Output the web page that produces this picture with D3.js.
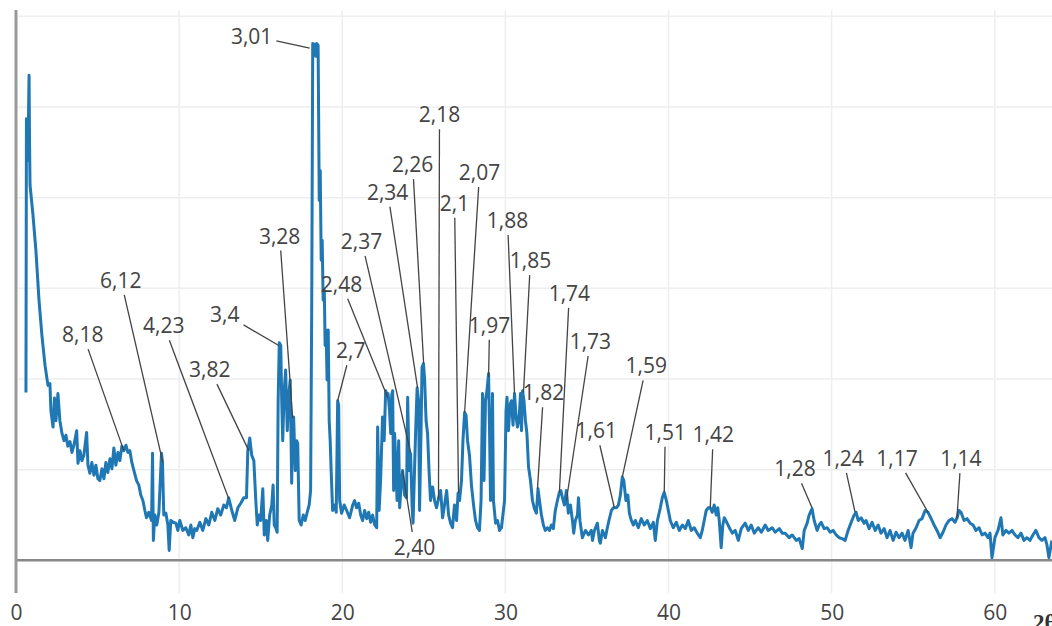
<!DOCTYPE html>
<html>
<head>
<meta charset="utf-8">
<script src="https://cdn.jsdelivr.net/npm/d3@7"></script>
<style>
  body { margin: 0; background: #fff; overflow: hidden; }
  svg { display: block; }
</style>
</head>
<body>
<svg id="chart" width="1052" height="626"></svg>
<script>
// diffraction scan: [2θ, intensity]
const scan = [
  [0.61,185],[0.64,487],[0.70,480],[0.73,441],[0.80,535],[0.83,463],[0.86,414],[1.04,381],[1.22,342],[1.41,287],
  [1.59,248],[1.78,215],[1.96,193],[2.08,195],[2.14,165],[2.27,147],[2.36,179],[2.45,154],[2.57,184],[2.69,154],
  [2.82,140],[2.94,132],[3.06,138],[3.18,126],[3.31,131],[3.43,119],[3.55,127],[3.72,143],[3.80,107],[3.92,121],
  [4.04,110],[4.16,116],[4.33,141],[4.41,105],[4.53,96],[4.65,108],[4.78,94],[4.90,105],[5.02,90],[5.14,88],
  [5.27,101],[5.39,90],[5.51,108],[5.63,97],[5.76,112],[5.88,101],[6.00,124],[6.12,105],[6.25,119],[6.37,110],
  [6.49,126],[6.61,121],[6.74,127],[6.86,119],[6.98,121],[7.10,108],[7.23,99],[7.39,88],[7.53,83],[7.65,72],
  [7.78,66],[7.90,55],[8.00,47],[8.14,53],[8.31,44],[8.37,118],[8.42,22],[8.51,50],[8.63,39],[8.76,53],
  [8.92,118],[8.98,108],[9.06,50],[9.19,52],[9.31,39],[9.39,11],[9.49,44],[9.63,42],[9.80,41],[9.92,33],
  [10.04,44],[10.23,33],[10.41,36],[10.59,28],[10.72,39],[10.84,25],[10.96,35],[11.08,33],[11.27,42],[11.45,33],
  [11.64,46],[11.82,39],[12.00,53],[12.19,44],[12.37,57],[12.55,50],[12.74,61],[12.90,58],[13.04,69],[13.23,55],
  [13.41,44],[13.60,58],[13.78,63],[13.96,69],[14.13,69],[14.21,121],[14.33,135],[14.45,116],[14.58,110],[14.70,66],
  [14.79,39],[14.88,50],[15.00,44],[15.13,79],[15.22,28],[15.34,44],[15.43,22],[15.55,50],[15.68,61],[15.76,83],
  [15.83,39],[15.92,36],[16.01,31],[16.07,176],[16.14,240],[16.23,237],[16.29,176],[16.35,132],[16.44,187],[16.53,210],
  [16.63,143],[16.72,182],[16.81,199],[16.90,85],[16.96,157],[17.02,158],[17.12,99],[17.21,132],[17.27,129],[17.36,44],
  [17.48,39],[17.61,50],[17.73,44],[17.85,53],[17.97,61],[18.06,77],[18.13,287],[18.19,570],[18.31,569],[18.37,556],
  [18.43,570],[18.52,568],[18.59,397],[18.65,430],[18.71,331],[18.77,353],[18.83,287],[18.90,298],[18.95,237],[19.01,254],
  [19.07,199],[19.14,254],[19.20,154],[19.26,132],[19.32,99],[19.41,55],[19.54,61],[19.63,53],[19.72,176],[19.78,171],
  [19.84,66],[19.96,52],[20.12,61],[20.27,55],[20.45,47],[20.64,61],[20.76,66],[20.88,58],[21.01,63],[21.13,50],
  [21.25,44],[21.37,55],[21.50,46],[21.62,53],[21.74,42],[21.86,50],[21.99,39],[22.11,36],[22.17,147],[22.26,55],
  [22.35,88],[22.47,158],[22.57,132],[22.66,187],[22.75,182],[22.81,184],[22.90,165],[22.97,140],[23.03,182],[23.09,187],
  [23.15,77],[23.21,140],[23.30,99],[23.36,66],[23.46,132],[23.52,58],[23.61,83],[23.70,99],[23.82,72],[23.94,69],
  [24.01,180],[24.10,99],[24.19,118],[24.28,61],[24.34,41],[24.43,99],[24.50,143],[24.59,190],[24.68,176],[24.74,55],
  [24.83,143],[24.89,213],[24.98,217],[25.05,199],[25.14,154],[25.23,140],[25.32,99],[25.41,66],[25.54,81],[25.66,66],
  [25.78,58],[25.90,68],[26.03,77],[26.15,47],[26.27,61],[26.40,77],[26.52,50],[26.64,41],[26.76,36],[26.88,61],
  [27.01,44],[27.10,74],[27.19,66],[27.31,88],[27.40,132],[27.50,163],[27.59,160],[27.68,132],[27.80,116],[27.92,83],
  [28.05,61],[28.17,44],[28.29,36],[28.41,33],[28.51,66],[28.60,184],[28.69,88],[28.78,176],[28.87,187],[28.97,206],
  [29.03,143],[29.09,66],[29.15,121],[29.21,184],[29.27,66],[29.40,41],[29.52,44],[29.64,33],[29.76,36],[29.88,55],
  [29.95,66],[30.04,165],[30.10,180],[30.19,143],[30.28,171],[30.37,176],[30.47,149],[30.56,184],[30.65,160],[30.74,147],
  [30.83,154],[30.93,184],[30.99,143],[31.05,187],[31.14,176],[31.23,154],[31.32,140],[31.42,103],[31.54,88],[31.66,66],
  [31.78,57],[31.90,52],[32.00,79],[32.09,66],[32.21,50],[32.33,39],[32.45,33],[32.58,36],[32.70,33],[32.82,39],
  [32.94,35],[33.06,55],[33.19,66],[33.31,75],[33.40,77],[33.50,69],[33.62,61],[33.74,77],[33.86,52],[33.99,61],
  [34.11,44],[34.19,30],[34.29,44],[34.42,50],[34.48,69],[34.57,44],[34.72,25],[34.91,33],[35.09,28],[35.27,33],
  [35.34,22],[35.46,33],[35.64,41],[35.76,22],[35.82,19],[35.95,33],[36.13,25],[36.25,36],[36.35,44],[36.50,55],
  [36.62,58],[36.80,58],[36.93,61],[37.05,72],[37.17,92],[37.26,88],[37.39,66],[37.51,72],[37.60,52],[37.72,44],
  [37.85,39],[37.97,44],[38.15,36],[38.33,46],[38.52,39],[38.70,44],[38.89,35],[39.07,42],[39.19,22],[39.32,44],
  [39.50,58],[39.62,69],[39.74,75],[39.87,66],[39.99,55],[40.11,44],[40.29,36],[40.48,42],[40.66,33],[40.85,39],
  [41.03,35],[41.21,44],[41.40,33],[41.58,36],[41.76,30],[41.95,25],[42.07,33],[42.19,44],[42.31,55],[42.44,58],
  [42.56,58],[42.68,53],[42.80,61],[42.93,50],[43.02,58],[43.11,44],[43.23,14],[43.33,39],[43.42,47],[43.57,42],
  [43.73,36],[43.91,30],[44.09,33],[44.28,22],[44.46,35],[44.70,41],[44.89,33],[45.07,39],[45.26,30],[45.50,36],
  [45.69,31],[45.93,39],[46.11,33],[46.36,36],[46.54,31],[46.79,35],[46.97,30],[47.15,30],[47.40,25],[47.58,28],
  [47.83,22],[48.01,24],[48.20,13],[48.32,33],[48.50,41],[48.62,50],[48.80,57],[48.93,44],[49.11,33],[49.24,39],
  [49.36,42],[49.54,35],[49.73,36],[49.91,31],[50.09,33],[50.28,28],[50.46,25],[50.65,24],[50.83,22],[51.01,33],
  [51.20,42],[51.38,50],[51.50,53],[51.63,44],[51.81,47],[51.99,41],[52.11,44],[52.30,35],[52.48,42],[52.67,33],
  [52.85,39],[53.03,30],[53.22,35],[53.40,25],[53.58,33],[53.77,22],[53.95,31],[54.14,25],[54.32,30],[54.50,22],
  [54.69,33],[54.87,14],[54.99,30],[55.18,36],[55.36,44],[55.54,46],[55.73,55],[55.91,53],[56.10,46],[56.28,39],
  [56.46,33],[56.65,25],[56.83,31],[57.01,39],[57.20,44],[57.38,46],[57.56,42],[57.69,47],[57.81,55],[57.93,53],
  [58.12,44],[58.30,46],[58.49,41],[58.67,39],[58.85,33],[59.04,36],[59.22,28],[59.40,30],[59.59,25],[59.71,30],
  [59.83,3],[60.01,25],[60.20,33],[60.38,47],[60.50,28],[60.69,33],[60.87,30],[61.06,33],[61.24,28],[61.42,25],
  [61.61,30],[61.79,22],[61.97,25],[62.16,22],[62.34,28],[62.52,33],[62.71,25],[62.89,22],[63.08,25],[63.20,17],
  [63.32,3],[63.50,22]
];

// d-spacing labels (Å) and where they point on the scan
const peakLabels = ["3,01","8,18","6,12","4,23","3,82","3,4","3,28","2,7","2,48","2,40","2,37","2,34","2,26","2,18","2,1",
  "2,07","1,97","1,88","1,85","1,82","1,74","1,73","1,61","1,59","1,51","1,42","1,28","1,24","1,17","1,14"];
const peakTheta = [18.00,6.61,9.00,13.04,14.27,16.11,16.96,19.72,22.78,23.70,24.19,24.62,24.99,25.90,27.13,
  27.50,28.97,30.56,31.11,31.97,33.31,33.74,36.68,37.17,39.74,42.56,48.80,51.44,55.91,57.68];
const peakIntensity = [565,121,108,68,121,237,157,176,180,99,119,190,217,68,74,
  163,202,184,185,79,75,66,58,92,75,58,58,53,53,46];
// label offset from arrow tip, px (like plotly ax/ay)
const labelOffsets = [[-58,-12],[-41,-116],[-42,-182],[-65,-173],[-39,-81],[-54,-31],[-13,-182],[13,-50],[-46,-113],[12,77],
  [-49,-211],[-30,-196],[-11,-199],[1,-384],[-4,-290],[15,-240],[1,-52],[-7,-173],[7,-132],[6,-96],
  [10,-199],[24,-159],[-18,-77],[24,-111],[1,-60],[3,-73],[-17,-39],[-12,-54],[-31,-54],[4,-60]];

const xTicks = [0, 10, 20, 30, 40, 50, 60];
const yGrid = [100, 200, 300, 400, 500, 600];

const plot = { left: 16, right: 1060, top: 10, bottom: 593 };
const FONT = "'Open Sans', 'Noto Sans', sans-serif";

const svg = d3.select('#chart');

const x = d3.scaleLinear().domain([0, 64]).range([plot.left, plot.right]);
const y = d3.scaleLinear().domain([-36, 607]).range([plot.bottom, plot.top]);

svg.append('clipPath').attr('id', 'plotclip')
  .append('rect')
  .attr('x', plot.left).attr('y', plot.top)
  .attr('width', plot.right - plot.left).attr('height', plot.bottom - plot.top);

// grid
const grid = svg.append('g').attr('class', 'grid');
grid.selectAll('line.v').data(xTicks.filter(d => d !== 0)).join('line')
  .attr('class', 'v')
  .attr('x1', d => x(d)).attr('x2', d => x(d))
  .attr('y1', plot.top).attr('y2', plot.bottom)
  .attr('stroke', '#eee').attr('stroke-width', 1.5);
grid.selectAll('line.h').data(yGrid).join('line')
  .attr('class', 'h')
  .attr('x1', plot.left).attr('x2', plot.right)
  .attr('y1', d => y(d)).attr('y2', d => y(d))
  .attr('stroke', '#eee').attr('stroke-width', 1.5);

// zero line for intensity
svg.append('line')
  .attr('x1', plot.left).attr('x2', plot.right)
  .attr('y1', y(0)).attr('y2', y(0))
  .attr('stroke', '#888').attr('stroke-width', 2.5);

// the scan
svg.append('path')
  .datum(scan)
  .attr('clip-path', 'url(#plotclip)')
  .attr('fill', 'none')
  .attr('stroke', '#1f77b4')
  .attr('stroke-width', 3)
  .attr('stroke-linejoin', 'round')
  .attr('d', d3.line().x(d => x(d[0])).y(d => y(d[1])));

// zero line for 2θ (acts as the left axis)
svg.append('line')
  .attr('x1', x(0)).attr('x2', x(0))
  .attr('y1', plot.top).attr('y2', plot.bottom)
  .attr('stroke', '#999').attr('stroke-width', 3);

// x tick labels
const xAxis = svg.append('g')
  .attr('transform', `translate(0,${plot.bottom})`)
  .call(d3.axisBottom(x).tickValues(xTicks).tickSize(0).tickPadding(12));
xAxis.select('.domain').remove();
xAxis.selectAll('text')
  .attr('font-family', FONT).attr('font-size', 21).attr('fill', '#444');

// axis title, partly cut by the window edge as in the source
svg.append('text')
  .attr('x', 1033).attr('y', 630)
  .attr('font-family', "'Liberation Serif', 'DejaVu Serif', serif")
  .attr('font-weight', 'bold').attr('font-size', 23).attr('fill', '#333')
  .text('2θ');

// peak annotations
const notes = svg.append('g').attr('class', 'annotations');
peakLabels.forEach((label, i) => {
  const tx = x(peakTheta[i]), ty = y(peakIntensity[i]);
  const [ax, ay] = labelOffsets[i];
  const g = notes.append('g');
  const text = g.append('text')
    .attr('x', tx + ax).attr('y', ty + ay + 7.5)
    .attr('text-anchor', 'middle')
    .attr('font-family', FONT).attr('font-size', 21).attr('fill', '#444')
    .text(label);
  const b = text.node().getBBox();
  const pad = 4;
  const x0 = b.x - pad, x1 = b.x + b.width + pad;
  const y0 = b.y + 3 - pad, y1 = b.y + b.height - 3 + pad;
  const mx = (x0 + x1) / 2, my = (y0 + y1) / 2;
  const dx = tx - mx, dy = ty - my;
  let t = 1;
  if (dx !== 0) t = Math.min(t, ((dx > 0 ? x1 : x0) - mx) / dx);
  if (dy !== 0) t = Math.min(t, ((dy > 0 ? y1 : y0) - my) / dy);
  g.insert('line', 'text')
    .attr('x1', mx + t * dx).attr('y1', my + t * dy)
    .attr('x2', tx).attr('y2', ty)
    .attr('stroke', '#444').attr('stroke-width', 1.3);
});
</script>
</body>
</html>
